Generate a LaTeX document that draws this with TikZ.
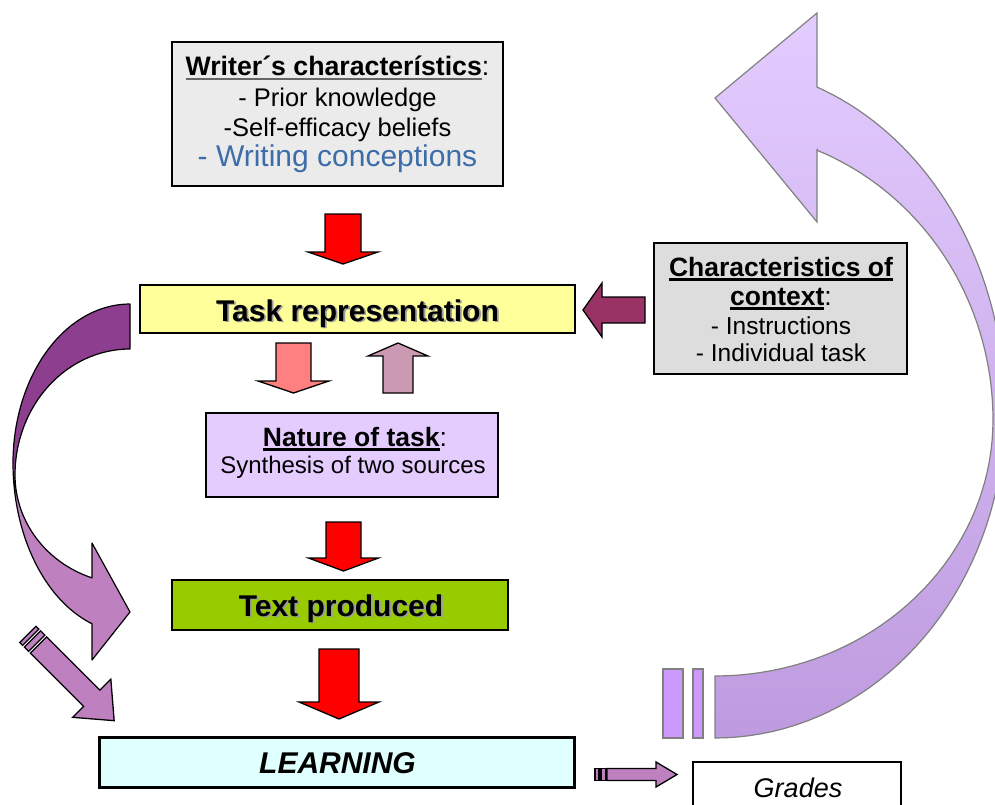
\documentclass[tikz,border=0pt]{standalone}
\usepackage{fontspec}
\setmainfont{Liberation Sans}

\definecolor{writerfill}{HTML}{EBEBEB}
\definecolor{taskfill}{HTML}{FFFF99}
\definecolor{contextfill}{HTML}{DDDDDD}
\definecolor{naturefill}{HTML}{E5CCFF}
\definecolor{textfill}{HTML}{99CC00}
\definecolor{learnfill}{HTML}{E0FFFF}
\definecolor{conceptblue}{HTML}{3D6DA8}
\definecolor{plumdark}{HTML}{8E3E8E}
\definecolor{plumlight}{HTML}{BF80BF}
\definecolor{wine}{HTML}{993366}
\definecolor{salmon}{HTML}{FF8080}
\definecolor{mauve}{HTML}{CC99B3}
\definecolor{lavtop}{HTML}{E3CCFF}
\definecolor{lavbottom}{HTML}{BE9BDF}
\definecolor{lavstripe}{HTML}{CC99FF}
\definecolor{lavedge}{HTML}{808080}
\definecolor{shadowgray}{HTML}{9C9C9C}
\definecolor{ulgray}{HTML}{666666}

% bold text with a heavy underline
\newcommand{\ulbold}[2][black]{\setbox0=\hbox{\bfseries #2}%
  \rlap{\textcolor{#1}{\rule[-4.8pt]{\wd0}{2.4pt}}}\box0}
% text with a soft grey drop shadow
\newcommand{\shadowed}[1]{\leavevmode\rlap{\kern1.8pt\raisebox{-1.8pt}{\textcolor{shadowgray}{#1}}}#1}
% vertical block arrow: style, centre x, shaft half width, head half width, tail y, head base y, tip y
\newcommand{\vblock}[7]{\draw[#1] ({#2-#3},#5) -- ({#2+#3},#5) -- ({#2+#3},#6) -- ({#2+#4},#6)
  -- (#2,#7) -- ({#2-#4},#6) -- ({#2-#3},#6) -- cycle;}
% horizontal block arrow: style, centre y, shaft half width, head half width, tail x, head base x, tip x
\newcommand{\hblock}[7]{\draw[#1] (#5,{#2-#3}) -- (#5,{#2+#3}) -- (#6,{#2+#3}) -- (#6,{#2+#4})
  -- (#7,#2) -- (#6,{#2-#4}) -- (#6,{#2-#3}) -- cycle;}

\tikzset{
  box/.style={draw=black, line width=1.4pt, rectangle, inner sep=0pt},
  txt/.style={inner sep=0pt, anchor=base},
  blockarrow/.style={draw=black, line width=1.3pt, line join=miter},
  plumarrow/.style={blockarrow, fill=plumlight},
  lavpiece/.style={draw=lavedge, line width=1.2pt},
}

\begin{document}
\begin{tikzpicture}[x=1pt, y=-1pt]
\useasboundingbox (0,0) rectangle (995,805);
\clip (0,0) rectangle (995,805);

% ---- feedback arrow on the right (Grades back to the top) ----
\path[lavpiece, top color=lavtop, bottom color=lavbottom]
  (817,87) -- (817,13) -- (715,98) -- (817,222) -- (817,150)
  -- plot[domain=68.5:0, samples=40, variable=\t] ({715+278*cos(\t)},{420-290*sin(\t)})
  -- plot[domain=0:90, samples=40, variable=\t] ({715+278*cos(\t)},{420+256*sin(\t)})
  -- (715,738)
  -- plot[domain=90:0, samples=40, variable=\t] ({715+290*cos(\t)},{410+328*sin(\t)})
  -- plot[domain=0:69.4, samples=40, variable=\t] ({715+290*cos(\t)},{410-345*sin(\t)})
  -- cycle;
\draw[lavpiece, fill=lavstripe] (663,669) rectangle (683,738);
\draw[lavpiece, fill=lavstripe] (693,669) rectangle (703,738);

% ---- curved arrow on the left (Task representation to Text produced) ----
\fill[plumdark] (130,304)
  -- plot[domain=0:90, samples=40, variable=\t] ({130-117*sin(\t)},{463-159*cos(\t)})
  -- plot[domain=90:0, samples=40, variable=\t] ({130-115*sin(\t)},{475-126*cos(\t)})
  -- cycle;
\fill[plumlight] (13,463)
  -- plot[domain=0:71.05, samples=40, variable=\t] ({130-117*cos(\t)},{463+170*sin(\t)})
  -- (92,660) -- (130,612) -- (92,543) -- (92,578)
  -- plot[domain=70.7:0, samples=40, variable=\t] ({130-115*cos(\t)},{475+109*sin(\t)})
  -- cycle;
\draw[line width=1.2pt, line join=round] (130,304)
  -- plot[domain=0:90, samples=40, variable=\t] ({130-117*sin(\t)},{463-159*cos(\t)})
  -- plot[domain=0:71.05, samples=40, variable=\t] ({130-117*cos(\t)},{463+170*sin(\t)})
  -- (92,660) -- (130,612) -- (92,543) -- (92,578)
  -- plot[domain=70.7:0, samples=40, variable=\t] ({130-115*cos(\t)},{475+109*sin(\t)})
  -- plot[domain=90:0, samples=40, variable=\t] ({130-115*sin(\t)},{475-126*cos(\t)})
  -- cycle;

% ---- striped arrow towards LEARNING ----
\begin{scope}[shift={(38.5,645)}, rotate=-45]
  \draw[plumarrow] (0,-11.5) -- (75.3,-11.5) -- (75.3,-27) -- (107,0) -- (75.3,27) -- (75.3,11.5) -- (0,11.5) -- cycle;
  \draw[plumarrow] (-8.5,-11.5) rectangle (-2.5,11.5);
  \draw[plumarrow] (-15,-11.5) rectangle (-11,11.5);
\end{scope}

% ---- boxes ----
\node[box, fill=writerfill, minimum width=331pt, minimum height=144pt] (writer) at (337.5,114) {};
\node[box, fill=taskfill, line width=1.8pt, minimum width=435pt, minimum height=48pt] (task) at (357.5,309) {};
\node[box, fill=contextfill, minimum width=253pt, minimum height=131pt] (context) at (780.5,308.5) {};
\node[box, fill=naturefill, line width=1.2pt, minimum width=292pt, minimum height=84pt] (nature) at (352,455) {};
\node[box, fill=textfill, minimum width=336pt, minimum height=50pt] (produced) at (340,605) {};
\node[box, fill=learnfill, line width=3pt, minimum width=475pt, minimum height=50pt] (learning) at (336.5,762) {};
\node[box, fill=white, minimum width=208pt, minimum height=80pt] (grades) at (797,802) {};

% ---- box texts ----
\node[txt, font=\fontsize{26.7}{30}\selectfont] (writer-head) at (337.5,75.7) {\ulbold[ulgray]{Writer´s characterístics}:};
\node[txt, font=\fontsize{25.5}{30}\selectfont] (writer-a) at (337.5,106.7) {- Prior knowledge};
\node[txt, font=\fontsize{25.5}{30}\selectfont] (writer-b) at (337.5,136.7) {-Self-efficacy beliefs};
\node[txt, font=\fontsize{30}{34}\selectfont, text=conceptblue] (writer-c) at (337.5,167) {- Writing conceptions};

\node[txt, font=\fontsize{30}{34}\selectfont\bfseries] (task-t) at (357.5,321) {\shadowed{Task representation}};

\node[txt, font=\fontsize{26.5}{30}\selectfont] (context-a) at (781,276) {\ulbold{Characteristics of}};
\node[txt, font=\fontsize{26.5}{30}\selectfont] (context-b) at (781,305) {\ulbold{context}:};
\node[txt, font=\fontsize{24.5}{28}\selectfont] (context-c) at (781,334) {- Instructions};
\node[txt, font=\fontsize{24.5}{28}\selectfont] (context-d) at (781,361.5) {- Individual task};

\node[txt, font=\fontsize{26.5}{30}\selectfont] (nature-a) at (355,446) {\ulbold{Nature of task}:};
\node[txt, font=\fontsize{24}{28}\selectfont] (nature-b) at (353,473) {Synthesis of two sources};

\node[txt, font=\fontsize{30}{34}\selectfont\bfseries] (produced-t) at (341,616) {\shadowed{Text produced}};
\node[txt, font=\fontsize{30}{34}\selectfont\bfseries\itshape] (learning-t) at (337.5,773) {LEARNING};
\node[txt, font=\fontsize{27}{30}\selectfont\itshape] (grades-t) at (798,797) {Grades};

% ---- block arrows between the boxes ----
\vblock{blockarrow, fill=red}{343}{18}{35}{214}{252}{264}
\vblock{blockarrow, fill=salmon}{293.5}{17.5}{35.5}{343}{381}{393}
\vblock{blockarrow, fill=mauve}{398}{15}{30}{393}{356}{343}
\vblock{blockarrow, fill=red}{343.5}{17.5}{35}{522}{558}{571}
\vblock{blockarrow, fill=red}{339}{20}{40}{649}{702}{719}
\hblock{blockarrow, fill=wine}{310}{13}{27}{645}{602}{583}

% ---- striped arrow towards Grades ----
\hblock{plumarrow}{774.5}{6}{12.5}{607}{656}{677}
\draw[plumarrow] (595,768.5) rectangle (599,780.5);
\draw[plumarrow] (601,768.5) rectangle (606,780.5);
\end{tikzpicture}
\end{document}
